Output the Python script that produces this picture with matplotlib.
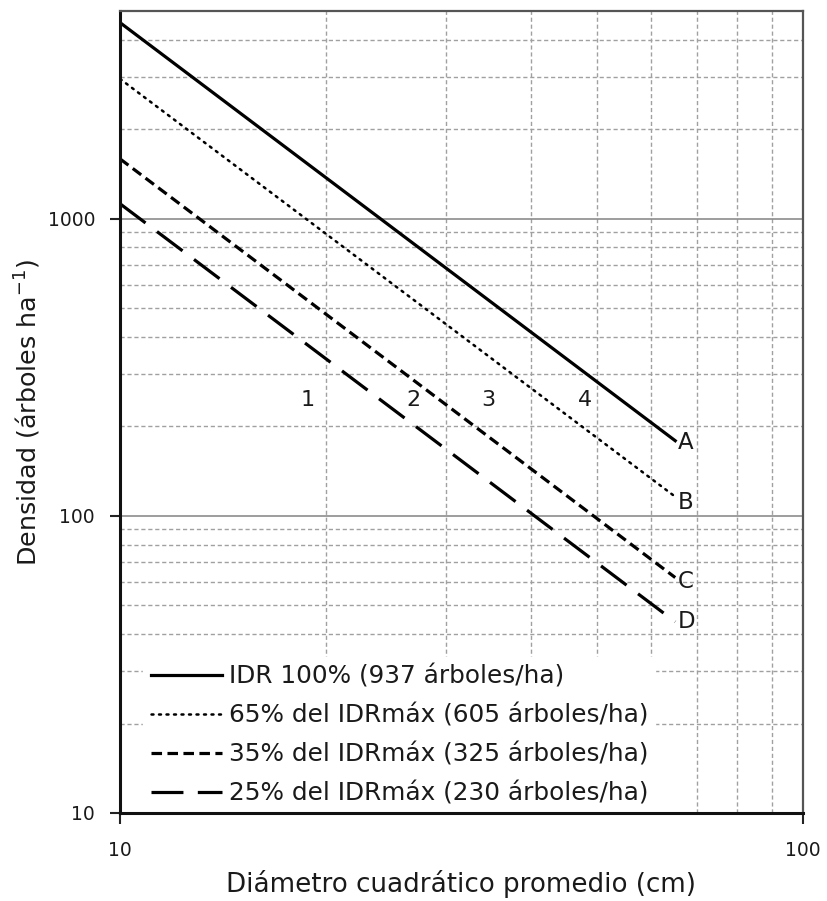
import matplotlib
matplotlib.use("Agg")
import matplotlib.pyplot as plt
from matplotlib.ticker import FixedLocator, NullFormatter, FixedFormatter

# ---- data ----
diam_ends = [10, 65]                       # cm, start and end of each line
dens_A = [4570, 179]                       # IDR 100%
dens_B = [2955, 116]                       # 65% del IDRmax
dens_C = [1590, 62]                        # 35% del IDRmax
dens_D = [1123, 44]                        # 25% del IDRmax
series_labels = ["IDR 100% (937 árboles/ha)",
                 "65% del IDRmáx (605 árboles/ha)",
                 "35% del IDRmáx (325 árboles/ha)",
                 "25% del IDRmáx (230 árboles/ha)"]
end_letters = ["A", "B", "C", "D"]
end_letter_y = [177, 111, 60, 44]
zone_labels = ["1", "2", "3", "4"]
zone_x = [18.8, 26.9, 34.6, 48.0]
zone_y = 245

plt.rcParams['font.family'] = ['DejaVu Sans']
TXT = '#1a1a1a'

fig = plt.figure(figsize=(8.27, 9.01), dpi=100)
ax = fig.add_axes([120/827, 1-813/901, (803-120)/827, (813-11)/901])
ax.set_xscale('log')
ax.set_yscale('log')
ax.set_xlim(10, 100)
ax.set_ylim(10, 5000)

# grid
ax.set_axisbelow(True)
ax.xaxis.set_minor_locator(FixedLocator([20, 30, 40, 50, 60, 70, 80, 90]))
ax.yaxis.set_minor_locator(FixedLocator([v*m for m in (10, 100, 1000) for v in range(2, 10) if v*m < 5000]))
ax.xaxis.set_major_locator(FixedLocator([10, 100]))
ax.yaxis.set_major_locator(FixedLocator([10, 100, 1000]))
ax.xaxis.set_major_formatter(FixedFormatter(["10", "100"]))
ax.yaxis.set_major_formatter(FixedFormatter(["10", "100", "1000"]))
ax.xaxis.set_minor_formatter(NullFormatter())
ax.yaxis.set_minor_formatter(NullFormatter())
ax.grid(which='major', axis='y', color='#8c8c8c', lw=1.2, ls='-')
ax.grid(which='minor', color='#a0a0a0', lw=1.0, ls=(0, (3, 2)))

ax.tick_params(which='major', direction='out', length=7, width=1.5, colors='#222',
               labelsize=13.5, labelcolor=TXT)
ax.tick_params(axis='y', which='major', pad=11)
ax.tick_params(axis='x', which='major', pad=12, length=8)
ax.tick_params(which='minor', length=0)

for s in ('left', 'bottom'):
    ax.spines[s].set_linewidth(2.2)
    ax.spines[s].set_color('#111')
for s in ('top', 'right'):
    ax.spines[s].set_linewidth(1.6)
    ax.spines[s].set_color('#555')
for s in ax.spines.values():
    s.set_zorder(10)

lw = 2.3
ax.plot(diam_ends, dens_A, color='black', lw=lw, ls='-', label=series_labels[0])
ax.plot(diam_ends, dens_B, color='black', lw=1.8, ls=(0, (0.8, 2.2)), dash_capstyle='round',
        label=series_labels[1])
ax.plot(diam_ends, dens_C, color='black', lw=lw, ls=(0, (3.3, 1.7)), label=series_labels[2])
ax.plot(diam_ends, dens_D, color='black', lw=lw, ls=(0, (10, 4.5)), label=series_labels[3])

for t, y in zip(end_letters, end_letter_y):
    ax.text(65.6, y, t, fontsize=16.5, color=TXT, ha='left', va='center')
for t, x in zip(zone_labels, zone_x):
    ax.text(x, zone_y, t, fontsize=16, color=TXT, ha='center', va='center')

leg = ax.legend(loc='lower left', bbox_to_anchor=(0.034, 0.0), fontsize=17.8, handlelength=2.87,
                handletextpad=0.28, labelspacing=0.61, frameon=True, fancybox=False,
                framealpha=1, facecolor='white', edgecolor='white', borderpad=0.3,
                borderaxespad=0)
for t in leg.get_texts():
    t.set_color(TXT)

ax.set_xlabel("Diámetro cuadrático promedio (cm)", fontsize=18.8, color=TXT, labelpad=7)
ax.set_ylabel("Densidad (árboles ha$^{\\mathregular{-1}}$)", fontsize=18.3, color=TXT, labelpad=3)

fig.savefig("out.png", dpi=100)
